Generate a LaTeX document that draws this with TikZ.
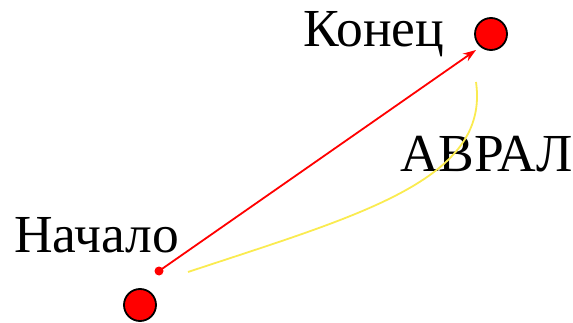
\documentclass[tikz,border=0pt]{standalone}
\usepackage{fontspec}
\setmainfont{Liberation Serif}
\usetikzlibrary{arrows.meta}
\definecolor{softyellow}{RGB}{250,235,80}
\begin{document}
\begin{tikzpicture}[x=1pt,y=-1pt,
  bigdot/.style={circle,fill=red,draw=black,line width=1.8pt,minimum size=32pt,inner sep=0pt},
  label/.style={anchor=base west,inner sep=0pt,font=\fontsize{53.5}{53.5}\selectfont},
  redarrow/.style={draw=red,line width=1.8pt,-{Stealth[length=13pt,width=9pt]}},
  yellowline/.style={draw=softyellow,line width=1.8pt}]
\useasboundingbox (0,0) rectangle (573,323);
\node[bigdot] (start) at (140,305) {};
\node[bigdot] (end) at (491,34) {};
\node[label] (lstart) at (14,252) {Начало};
\node[label] (lend) at (303,47) {Конец};
\node[label] (lavral) at (400,172) {АВРАЛ};
\fill[red] (159,271) circle (4.5pt);
\coordinate (a0) at (159,271);
\coordinate (a1) at (476,50);
\draw[redarrow] (a0) -- (a1);
\coordinate (y0) at (188,272);
\coordinate (y1) at (476,82);
\draw[yellowline] (y0) .. controls (360,215) and (490,180) .. (y1);
\end{tikzpicture}
\end{document}
